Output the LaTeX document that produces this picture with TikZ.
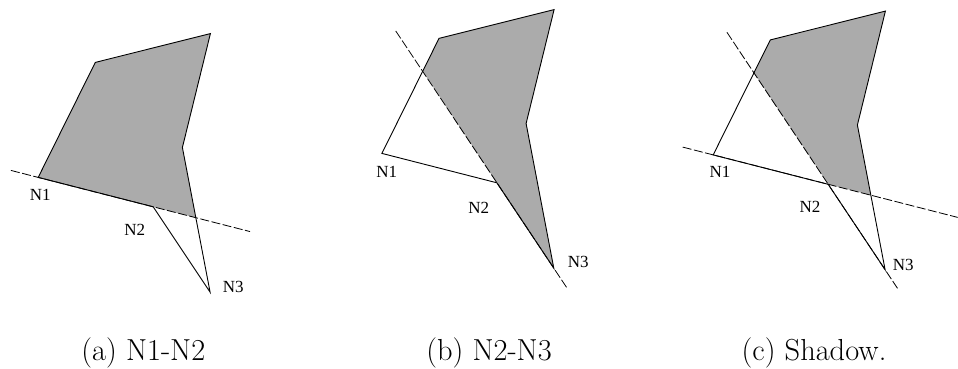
\documentclass[tikz,border=0pt]{standalone}
\usepackage{fontspec}
\usetikzlibrary{calc}
\newfontfamily\labfont{Liberation Serif}
\definecolor{shadegray}{RGB}{171,171,171}
\begin{document}
\begin{tikzpicture}[x=1pt,y=-1pt,
  edge/.style={line width=0.9pt, line join=miter},
  cut/.style={line width=0.8pt, dash pattern=on 9pt off 2.5pt},
  shadefill/.style={fill=shadegray},
  lab/.style={font=\labfont\fontsize{17}{20}\selectfont, inner sep=0pt},
  capt/.style={font=\fontsize{30.4}{36}\selectfont, inner sep=0pt, anchor=base}]
\useasboundingbox (0,0) rectangle (958,369);

% base polygon, repeated in each panel
\foreach \p/\sx/\sy in {a/0/0, b/343.7/-24, c/675/-22.5}{
  \begin{scope}[shift={(\sx,\sy)}]
    \coordinate (\p N1) at (38.2,177.4);
    \coordinate (\p TL) at (95.3,62.4);
    \coordinate (\p TR) at (210.4,33.6);
    \coordinate (\p V)  at (182.4,147.5);
    \coordinate (\p N3) at (210.1,292.2);
    \coordinate (\p N2) at (153.2,206.8);
  \end{scope}
}

% ---------- (a) N1-N2 ----------
\coordinate (aX) at (intersection of aV--aN3 and aN1--aN2);
\fill[shadefill] (aN1) -- (aTL) -- (aTR) -- (aV) -- (aX) -- cycle;
\draw[edge] (aN1) -- (aTL) -- (aTR) -- (aV) -- (aN3) -- (aN2) -- cycle;
\coordinate (aL0) at ($(aN1)!-0.237!(aN2)$);
\coordinate (aL1) at ($(aN1)!1.842!(aN2)$);
\draw[cut] (aL0) -- (aL1);
\node[lab] (aN1lab) at (40.2,195) {N1};
\node[lab] (aN2lab) at (134.8,230) {N2};
\node[lab] (aN3lab) at (233.3,286.7) {N3};
\node[capt] (capa) at (143.3,360) {(a) N1-N2};

% ---------- (b) N2-N3 ----------
\coordinate (bY) at (intersection of bN1--bTL and bN2--bN3);
\fill[shadefill] (bY) -- (bTL) -- (bTR) -- (bV) -- (bN3) -- (bN2) -- cycle;
\draw[edge] (bN1) -- (bTL) -- (bTR) -- (bV) -- (bN3) -- (bN2) -- cycle;
\coordinate (bL0) at ($(bN2)!-1.778!(bN3)$);
\coordinate (bL1) at ($(bN2)!1.235!(bN3)$);
\draw[cut] (bL0) -- (bL1);
\node[lab] (bN1lab) at (386.7,171.7) {N1};
\node[lab] (bN2lab) at (478.7,208.3) {N2};
\node[lab] (bN3lab) at (578.3,262) {N3};
\node[capt] (capb) at (489,360) {(b) N2-N3};

% ---------- (c) Shadow ----------
\coordinate (cX) at (intersection of cV--cN3 and cN1--cN2);
\coordinate (cY) at (intersection of cN1--cTL and cN2--cN3);
\fill[shadefill] (cY) -- (cTL) -- (cTR) -- (cV) -- (cX) -- (cN2) -- cycle;
\draw[edge] (cN1) -- (cTL) -- (cTR) -- (cV) -- (cN3) -- (cN2) -- cycle;
\coordinate (cH0) at ($(cN1)!-0.265!(cN2)$);
\coordinate (cH1) at ($(cN1)!2.126!(cN2)$);
\draw[cut] (cH0) -- (cH1);
\coordinate (cD0) at ($(cN2)!-1.780!(cN3)$);
\coordinate (cD1) at ($(cN2)!1.218!(cN3)$);
\draw[cut] (cD0) -- (cD1);
\node[lab] (cN1lab) at (720,171.7) {N1};
\node[lab] (cN2lab) at (810,207.3) {N2};
\node[lab] (cN3lab) at (903.3,265) {N3};
\node[capt] (capc) at (814,360) {(c) Shadow.};
\end{tikzpicture}
\end{document}
